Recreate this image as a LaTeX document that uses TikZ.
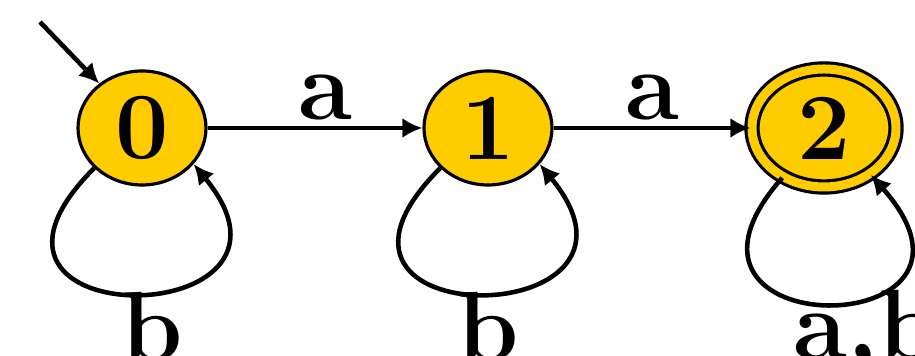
\documentclass[tikz,border=0pt]{standalone}
\usepackage{xcolor}
\usepackage{tikz}
\usetikzlibrary{arrows.meta,positioning,shapes.geometric}
\definecolor{StateYellow}{HTML}{FFCC00}
\tikzset{
  fa/state/.style={draw, ellipse, fill=StateYellow, line width=0.9pt, inner sep=0pt,
    minimum width=12.8mm, minimum height=11.4mm, font=\fontsize{27}{30}\selectfont\bfseries},
  fa/accept/.style={fa/state, double=StateYellow, double distance=0.9mm,
    minimum width=14.4mm, minimum height=11.8mm},
  fa/edge/.style={line width=1.3pt, -{Latex[length=2mm,width=2mm]}},
  fa/lbl/.style={font=\fontsize{28}{30}\selectfont\bfseries, inner sep=0.6mm}
}

\begin{document}
\begin{tikzpicture}[node distance=3.46cm, on grid]
  \useasboundingbox (0,0) rectangle (9.15,3.56);
  \node[fa/state] (q0) at (1.42,2.28) {0};
  \node[fa/state, right=of q0] (q1) {1};
  \node[fa/accept, right=3.36cm of q1] (q2) {2};
  \coordinate (start) at (0.40,3.34);

  \draw[fa/edge] (start) -- (q0);
  \draw[fa/edge] (q0) -- node[fa/lbl, above, pos=0.55] {a} (q1);
  \draw[fa/edge] (q1) -- node[fa/lbl, above] {a} (q2);

  \draw[fa/edge] (q0.-140) .. controls +(-1.7,-1.7) and +(1.4,-1.7) .. (q0.-35)
    node[fa/lbl, below, pos=0.5, xshift=2mm, yshift=1mm] {b};
  \draw[fa/edge] (q1.-140) .. controls +(-1.7,-1.7) and +(1.4,-1.7) .. (q1.-35)
    node[fa/lbl, below, pos=0.5, xshift=1mm, yshift=1mm] {b};
  \draw[fa/edge] (q2.-130) .. controls +(-1.5,-1.7) and +(1.5,-1.7) .. (q2.-45)
    node[fa/lbl, below, pos=0.5, xshift=4mm, yshift=2.2mm] {a,b};
\end{tikzpicture}
\end{document}
